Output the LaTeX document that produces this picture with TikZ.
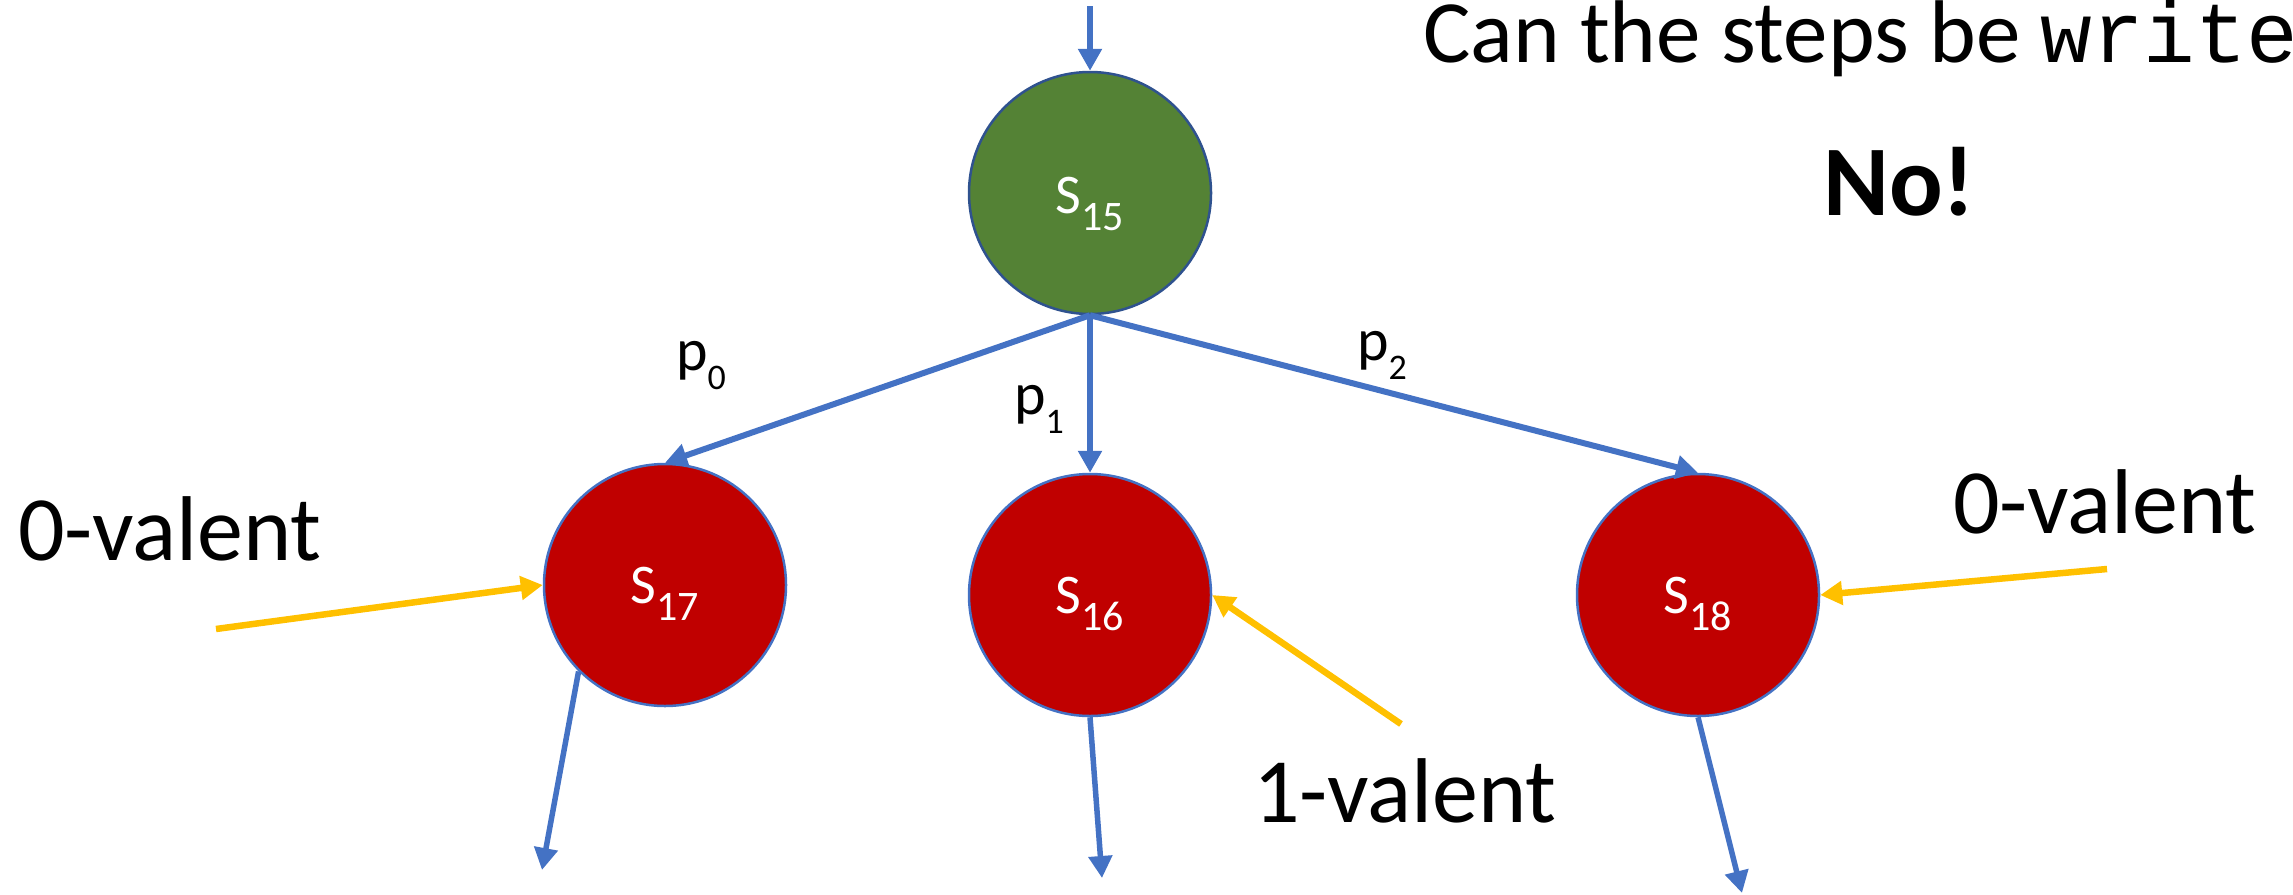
\documentclass[tikz,border=0pt]{standalone}
\usepackage{fontspec}
\setmainfont{Carlito}
\newfontfamily\codefont{Liberation Mono}
\usetikzlibrary{arrows.meta}

\definecolor{edgeblue}{HTML}{4472C4}
\definecolor{ringblue}{HTML}{2F528F}
\definecolor{stategreen}{HTML}{548235}
\definecolor{statered}{HTML}{C00000}
\definecolor{valgold}{HTML}{FFC000}

% state label: S with a lowered subscript, baseline set below the node centre
\newcommand{\statelbl}[2]{\raisebox{-#2pt}[0pt][0pt]{\fontsize{56}{56}\selectfont S\raisebox{-17pt}{\fontsize{42}{42}\selectfont #1}}}
% process label p_i
\newcommand{\proclbl}[1]{\fontsize{60}{60}\selectfont p\raisebox{-19pt}{\fontsize{36}{36}\selectfont #1}}

\tikzset{
  state/.style={circle, minimum size=242pt, inner sep=0pt, line width=2.5pt, text=white},
  greenstate/.style={state, fill=stategreen, draw=ringblue},
  redstate/.style={state, fill=statered, draw=edgeblue},
  stepedge/.style={draw=edgeblue, line width=6pt, -{Triangle[length=22pt,width=23pt]}},
  outedge/.style={draw=edgeblue, line width=5.5pt, -{Triangle[length=22pt,width=23pt]}},
  valedge/.style={draw=valgold, line width=6.5pt, -{Triangle[length=22pt,width=23pt]}},
  bigtext/.style={inner sep=0pt, anchor=base west, font=\fontsize{92}{92}\selectfont},
  proctext/.style={inner sep=0pt, anchor=base west}
}

\begin{document}
\begin{tikzpicture}[x=1pt, y=-1pt]
\useasboundingbox (0,0) rectangle (2293,894);

% states
\node[greenstate] (s15) at (1090,193) {\statelbl{15}{20}};
\node[redstate]   (s17) at (665,585)  {\statelbl{17}{18}};
\node[redstate]   (s16) at (1090,595) {\statelbl{16}{18}};
\node[redstate]   (s18) at (1698,595) {\statelbl{18}{18}};

% incoming step into s15
\coordinate (in15) at (1090,6);
\draw[stepedge] (in15) -- (s15.north);

% steps of p0, p1, p2
\draw[stepedge] (s15.south) -- (s17.north);
\draw[stepedge] (s15.south) -- (s16.north);
\draw[stepedge] (s15.south) -- (s18.north);

\node[proctext] (lp0) at (676,370) {\proclbl{0}};
\node[proctext] (lp1) at (1014,414) {\proclbl{1}};
\node[proctext] (lp2) at (1357,360) {\proclbl{2}};

% further steps leaving the successor states
\coordinate (out17) at (542,870);
\coordinate (out16) at (1102,878);
\coordinate (out18) at (1742,893);
\draw[outedge] (s17.225) -- (out17);
\draw[outedge] (s16.south) -- (out16);
\draw[outedge] (s18.south) -- (out18);

% valency annotations
\node[bigtext] (v17) at (18,560) {0-valent};
\node[bigtext] (v18) at (1953,533) {0-valent};
\node[bigtext] (v16) at (1253,822) {1-valent};

\coordinate (a17) at (216,629);
\coordinate (a16) at (1401,724);
\coordinate (a18) at (2107,569);
\draw[valedge] (a17) -- (s17.west);
\draw[valedge] (a16) -- (s16.east);
\draw[valedge] (a18) -- (s18.east);

% question and answer
\node[inner sep=0pt, anchor=base west, font=\fontsize{89}{89}\selectfont] (question) at (1423,62) {Can the steps be {\codefont\fontsize{86}{86}\selectfont write}};
\node[inner sep=0pt, anchor=base west, font=\fontsize{100}{100}\selectfont\bfseries] (answer) at (1823,215) {No!};

\end{tikzpicture}
\end{document}
